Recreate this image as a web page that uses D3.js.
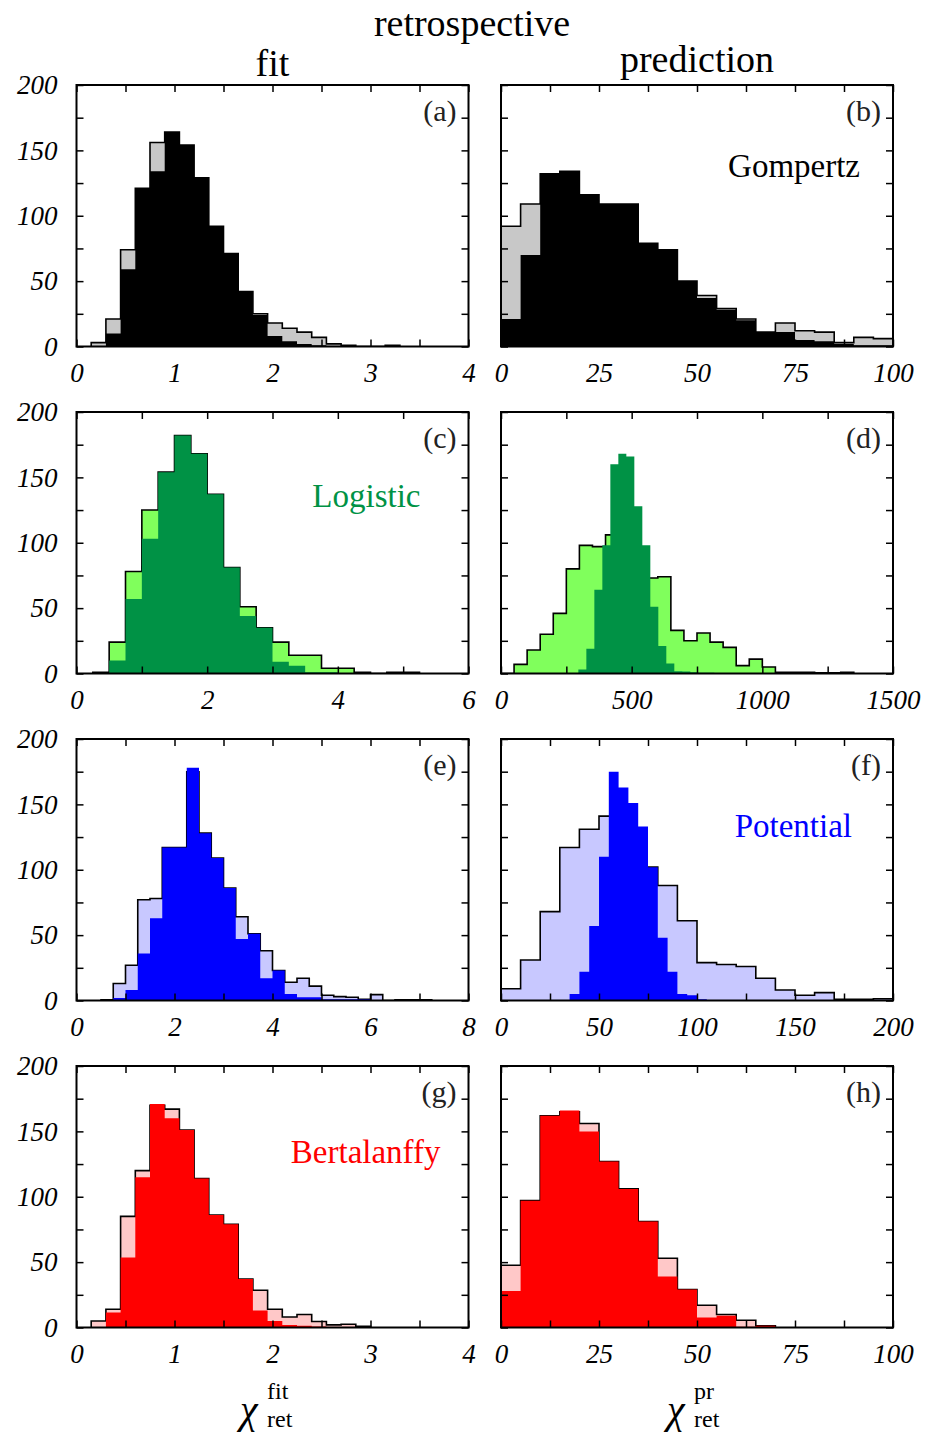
<!DOCTYPE html>
<html>
<head>
<meta charset="utf-8">
<script src="https://cdn.jsdelivr.net/npm/d3@7"></script>
<style>
  body { margin: 0; background: #fff; }
  svg text { font-family: "Liberation Serif", "DejaVu Serif", serif; }
</style>
</head>
<body>
<div id="chart"></div>
<script>
// ---- data ----
const panelTags = ["(a)", "(b)", "(c)", "(d)", "(e)", "(f)", "(g)", "(h)"];
const modelNames = ["Gompertz", "Logistic", "Potential", "Bertalanffy"];
const columnTitles = ["fit", "prediction"];

const xMax = [4, 100, 6, 1500, 8, 200, 4, 100];
const xTickStep = [0.5, 12.5, 1, 250, 1, 25, 0.5, 12.5];
const xLabelStep = [1, 25, 2, 500, 2, 50, 1, 25];
const yTickValues = [0, 25, 50, 75, 100, 125, 150, 175, 200];
const yLabelValues = [0, 50, 100, 150, 200];

// histogram bins: first edge and bin width, light (outlined) and dark series
const lightStart = [0.15, 0, 0.25, 0, 0.5, 0, 0.15, 0];
const lightBin = [0.15, 5, 0.25, 50, 0.25, 10, 0.15, 5];
const darkStart = [0.15, 0, 0.25, 296, 0.5, 35, 0.15, 0];
const darkBin = [0.15, 5, 0.25, 30.6, 0.25, 5, 0.15, 5];

const aLight = [3, 21, 74, 121, 156, 164, 154, 129, 92, 71, 42, 25, 18, 14, 11, 7, 2, 1, 0, 0, 1];
const aDark  = [0, 10, 59, 121, 134, 164, 154, 129, 92, 71, 42, 24, 8, 4, 2, 1];
const bLight = [92, 109, 132, 134, 116, 109, 109, 79, 74, 50, 39, 29, 21, 11, 18, 12, 11, 3, 7, 6];
const bDark  = [21, 70, 132, 134, 116, 109, 109, 79, 74, 50, 37, 28, 20, 11, 11, 5, 4, 2, 1, 1];
const cLight = [1, 24, 78, 125, 154, 182, 168, 137, 81, 51, 35, 24, 14, 14, 4, 4, 1, 0, 1, 1];
const cDark  = [0, 10, 57, 103, 154, 182, 168, 137, 81, 44, 35, 9, 6, 1, 1, 0];
const dLight = [0, 7, 18, 30, 46, 80, 98, 97, 106, 115, 95, 73, 74, 33, 25, 31, 24, 20, 6, 11, 5, 1, 1, 1, 0.5, 0.5, 1];
const dDark  = [3, 19, 64, 98, 160, 168, 166, 128, 98, 51, 21, 7.6, 1.8, 1.5, 1, 0.5, 0.5];
const eLight = [0.5, 13, 27, 77, 78, 117, 117, 175, 128, 109, 86, 64, 51, 38, 23, 14, 17, 11, 4, 3, 2.5, 1, 4.5, 0, 0.5, 0.5, 0.5];
const eDark  = [0, 2, 8, 36, 63, 117, 117, 178, 128, 109, 86, 47, 51, 17, 23, 5, 2.5, 2.5, 1, 1, 1, 1];
const fLight = [9, 31, 68, 117, 131, 141, 130, 102, 88, 61, 29, 27.5, 26, 17, 8, 4, 6, 1, 1, 1.3];
const fDark  = [5, 22, 57, 110, 175, 163, 151, 133, 102, 48, 22, 5, 4, 1];
const gLight = [5, 14, 85, 120, 170, 167, 151, 114, 86, 79, 37, 28.5, 14, 8, 10, 4.6, 2, 2.5, 1];
const gDark  = [0, 11.5, 53.5, 115, 171, 160, 151, 114, 86, 79, 37, 13, 5, 2, 1.3, 0.8];
const hLight = [47.6, 97, 162, 165, 156, 127, 106, 81, 53, 29, 17, 10, 5.6, 1.3];
const hDark  = [28, 97, 162, 166, 150, 127, 106, 81, 39, 29, 7.6, 9, 0.5, 1.3];

const lightCounts = [aLight, bLight, cLight, dLight, eLight, fLight, gLight, hLight];
const darkCounts = [aDark, bDark, cDark, dDark, eDark, fDark, gDark, hDark];

// ---- style / layout ----
const rowLight = ["#c8c8c8", "#80ff5c", "#c8c8ff", "#ffc8c8"];
const rowDark = ["#000000", "#009245", "#0000ff", "#ff0000"];
const rowText = ["#000000", "#009245", "#0000ff", "#ff0000"];

const svgWidth = 925, svgHeight = 1434;
const colX = [76.5, 501];
const rowY = [85, 412, 739, 1066];
const pw = 392, ph = 261.5;

// where the model name sits: column, px from right edge, baseline from top
const nameCol = [1, 0, 1, 0];
const nameRight = [33, 48, 41, 28];
const nameDy = [92, 95, 98, 97];

const svg = d3.select("#chart")
  .append("svg")
  .attr("width", svgWidth)
  .attr("height", svgHeight);

// titles
svg.append("text")
  .attr("x", 472).attr("y", 36)
  .attr("text-anchor", "middle")
  .style("font-size", "38px")
  .text("retrospective");

columnTitles.forEach((t, c) => {
  svg.append("text")
    .attr("x", colX[c] + pw / 2)
    .attr("y", c === 0 ? 76 : 72)
    .attr("text-anchor", "middle")
    .style("font-size", "38px")
    .text(t);
});

function stepPoints(start, w, vals) {
  let pts = [[start, 0]];
  vals.forEach((v, i) => {
    pts.push([start + i * w, v]);
    pts.push([start + (i + 1) * w, v]);
  });
  pts.push([start + vals.length * w, 0]);
  return pts;
}

for (let p = 0; p < 8; p++) {
  const row = Math.floor(p / 2), col = p % 2;
  const g = svg.append("g")
    .attr("transform", `translate(${colX[col]}, ${rowY[row]})`);

  const x = d3.scaleLinear().domain([0, xMax[p]]).range([0, pw]);
  const y = d3.scaleLinear().domain([0, 200]).range([ph, 0]);

  const clipId = "clip" + p;
  g.append("clipPath").attr("id", clipId)
    .append("rect").attr("width", pw).attr("height", ph);

  const hist = g.append("g").attr("clip-path", `url(#${clipId})`);

  const area = d3.area().x(d => x(d[0])).y0(y(0)).y1(d => y(d[1]));
  const line = d3.line().x(d => x(d[0])).y(d => y(d[1]));

  const lp = stepPoints(lightStart[p], lightBin[p], lightCounts[p]);
  const dp = stepPoints(darkStart[p], darkBin[p], darkCounts[p]);

  hist.append("path").attr("d", area(lp)).attr("fill", rowLight[row]);
  hist.append("path").attr("d", line(lp))
    .attr("fill", "none").attr("stroke", "#000").attr("stroke-width", 1.6);
  hist.append("path").attr("d", area(dp)).attr("fill", rowDark[row]);

  // axes, ticks pointing inward
  const xTicks = d3.range(0, xMax[p] + 1e-9, xTickStep[p]);
  const isLabel = v => Math.abs(v / xLabelStep[p] - Math.round(v / xLabelStep[p])) < 1e-6;

  const bottomAxis = d3.axisBottom(x).tickValues(xTicks)
    .tickSizeInner(-7).tickSizeOuter(0).tickPadding(16)
    .tickFormat(v => isLabel(v) ? d3.format("")(v) : "");
  const topAxis = d3.axisTop(x).tickValues(xTicks)
    .tickSizeInner(-7).tickSizeOuter(0).tickFormat("");
  const leftAxis = d3.axisLeft(y).tickValues(yTickValues)
    .tickSizeInner(-7).tickSizeOuter(0).tickPadding(19)
    .tickFormat(v => (col === 0 && yLabelValues.includes(v)) ? v : "");
  const rightAxis = d3.axisRight(y).tickValues(yTickValues)
    .tickSizeInner(-7).tickSizeOuter(0).tickFormat("");

  const axes = [
    g.append("g").attr("transform", `translate(0, ${ph})`).call(bottomAxis),
    g.append("g").call(topAxis),
    g.append("g").call(leftAxis),
    g.append("g").attr("transform", `translate(${pw}, 0)`).call(rightAxis)
  ];
  axes.forEach(a => {
    a.select(".domain").remove();
    a.selectAll(".tick line").attr("stroke", "#000").attr("stroke-width", 1.5);
    a.selectAll(".tick text")
      .attr("fill", "#000")
      .style("font-family", "'Liberation Serif', serif")
      .style("font-style", "italic")
      .style("font-size", "27px");
  });

  g.append("rect")
    .attr("width", pw).attr("height", ph)
    .attr("fill", "none").attr("stroke", "#000").attr("stroke-width", 2);

  g.append("text")
    .attr("x", pw - 12).attr("y", 36)
    .attr("text-anchor", "end")
    .attr("fill", "#222")
    .style("font-size", "30px")
    .text(panelTags[p]);

  if (nameCol[row] === col) {
    g.append("text")
      .attr("x", pw - nameRight[row]).attr("y", nameDy[row])
      .attr("text-anchor", "end")
      .attr("fill", rowText[row])
      .style("font-size", "33px")
      .text(modelNames[row]);
  }
}

// axis titles
const xTitles = [{sup: "fit", cx: 240}, {sup: "pr", cx: 667}];
xTitles.forEach(t => {
  const tg = svg.append("g");
  tg.append("text")
    .attr("x", t.cx).attr("y", 1423)
    .style("font-size", "40px").style("font-style", "italic")
    .text("\u03C7");
  tg.append("text")
    .attr("x", t.cx + 27).attr("y", 1399)
    .style("font-size", "24px")
    .text(t.sup);
  tg.append("text")
    .attr("x", t.cx + 27).attr("y", 1427)
    .style("font-size", "24px")
    .text("ret");
});
</script>
</body>
</html>
